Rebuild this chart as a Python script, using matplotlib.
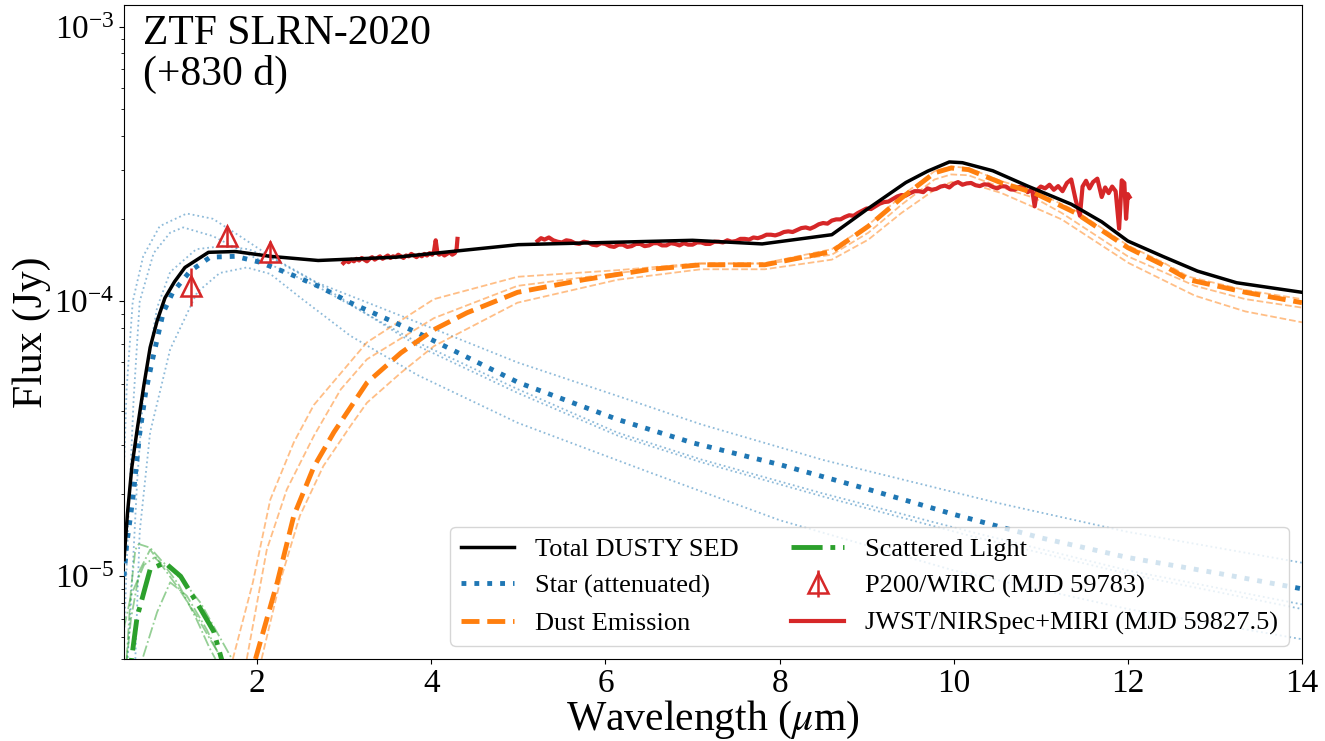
import matplotlib
matplotlib.use('Agg')
import matplotlib.pyplot as plt
import numpy as np

plt.rcParams['font.family'] = ['Liberation Serif', 'DejaVu Serif']
plt.rcParams['mathtext.fontset'] = 'stix'

# ---------------- data ----------------
tot_wl = [0.47, 0.51, 0.56, 0.62, 0.70, 0.77, 0.85, 0.94, 1.05, 1.17, 1.44, 1.75, 2.15, 2.70,
          3.60, 5.00, 7.00, 7.80, 8.60, 9.00, 9.45, 9.70, 9.95, 10.10, 10.45, 10.85, 11.35,
          11.70, 12.00, 12.40, 12.80, 13.25, 14.00]
tot_flux = [1.15e-5, 1.7e-5, 2.5e-5, 3.4e-5, 5.0e-5, 6.8e-5, 8.5e-5, 1.03e-4, 1.18e-4, 1.33e-4,
            1.51e-4, 1.52e-4, 1.46e-4, 1.41e-4, 1.45e-4, 1.61e-4, 1.67e-4, 1.62e-4, 1.75e-4,
            2.16e-4, 2.71e-4, 2.98e-4, 3.22e-4, 3.20e-4, 2.99e-4, 2.63e-4, 2.26e-4, 1.95e-4,
            1.66e-4, 1.46e-4, 1.29e-4, 1.17e-4, 1.08e-4]

star_wl = [0.47, 0.50, 0.57, 0.65, 0.72, 0.80, 0.92, 1.03, 1.23, 1.46, 1.75, 2.03, 2.40, 2.72,
           3.07, 3.84, 5.00, 6.14, 7.00, 8.00, 9.00, 10.00, 11.00, 12.00, 13.00, 14.00]
star_flux = [1.0e-5, 1.3e-5, 1.9e-5, 3.3e-5, 4.7e-5, 6.2e-5, 9.1e-5, 1.08e-4, 1.29e-4, 1.45e-4,
             1.46e-4, 1.39e-4, 1.25e-4, 1.13e-4, 9.9e-5, 7.7e-5, 5.07e-5, 3.72e-5, 3.06e-5,
             2.55e-5, 2.08e-5, 1.68e-5, 1.38e-5, 1.17e-5, 1.03e-5, 9.0e-6]

starA_wl = [0.47, 0.50, 0.57, 0.69, 0.88, 1.19, 1.49, 1.80, 2.15, 2.69, 3.84, 4.99, 6.14, 7.10,
            8.50, 10.50, 12.00, 14.00]
starA_flux = [2.5e-5, 4.8e-5, 1.0e-4, 1.46e-4, 1.88e-4, 2.09e-4, 2.0e-4, 1.73e-4, 1.46e-4,
              1.17e-4, 8.4e-5, 6.0e-5, 4.53e-5, 3.57e-5, 2.65e-5, 1.85e-5, 1.45e-5, 1.12e-5]

starB_wl = [0.47, 0.52, 0.58, 0.65, 0.81, 1.00, 1.15, 1.49, 1.96, 2.34, 2.72, 3.84, 4.99, 6.14,
            7.10, 8.50, 10.20, 12.00, 14.00]
starB_flux = [6e-6, 1.6e-5, 4.4e-5, 1.0e-4, 1.5e-4, 1.78e-4, 1.86e-4, 1.73e-4, 1.45e-4, 1.28e-4,
              1.12e-4, 7.1e-5, 4.8e-5, 3.33e-5, 2.66e-5, 2.0e-5, 1.45e-5, 1.05e-5, 7.9e-6]

starC_wl = [0.47, 0.55, 0.62, 0.70, 0.85, 1.00, 1.30, 1.60, 1.90, 2.20, 2.72, 3.84, 4.99, 6.14,
            7.10, 8.50, 10.20, 12.00, 14.00]
starC_flux = [3e-6, 8e-6, 2.2e-5, 5.0e-5, 9.5e-5, 1.28e-4, 1.55e-4, 1.59e-4, 1.55e-4, 1.42e-4,
              1.15e-4, 6.9e-5, 4.65e-5, 3.25e-5, 2.6e-5, 1.95e-5, 1.4e-5, 1.02e-5, 7.6e-6]

starD_wl = [0.60, 0.65, 0.77, 1.00, 1.31, 1.57, 1.88, 2.15, 2.50, 3.07, 3.84, 4.99, 6.52, 8.00,
            10.00, 12.00, 14.00]
starD_flux = [5e-6, 1.45e-5, 3.34e-5, 6.7e-5, 1.08e-4, 1.27e-4, 1.33e-4, 1.26e-4, 1.03e-4, 7.5e-5,
              5.4e-5, 3.62e-5, 2.38e-5, 1.6e-5, 1.05e-5, 7.6e-6, 5.9e-6]

dust_wl = [1.98, 2.23, 2.42, 2.65, 2.88, 3.26, 3.65, 4.03, 4.41, 4.99, 5.75, 6.52, 7.10, 7.83,
           8.60, 9.02, 9.40, 9.78, 9.97, 10.17, 10.55, 10.93, 11.40, 12.00, 12.40, 12.70,
           13.35, 14.00]
dust_flux = [5.0e-6, 9.5e-6, 1.66e-5, 2.5e-5, 3.34e-5, 5.06e-5, 6.5e-5, 7.9e-5, 9.1e-5, 1.08e-4,
             1.20e-4, 1.31e-4, 1.36e-4, 1.36e-4, 1.52e-4, 1.88e-4, 2.38e-4, 2.94e-4, 3.06e-4,
             3.02e-4, 2.70e-4, 2.48e-4, 2.10e-4, 1.57e-4, 1.36e-4, 1.20e-4, 1.08e-4, 9.9e-5]

dustA_wl = [1.72, 1.95, 2.15, 2.42, 2.65, 3.26, 4.03, 4.99, 6.14, 7.10, 7.83, 8.60, 9.02, 9.40,
            9.78, 9.97, 10.17, 10.55, 10.93, 11.40, 12.00, 12.40, 12.70, 13.35, 14.00]
dustA_flux = [5.0e-6, 9.5e-6, 1.9e-5, 3.07e-5, 4.2e-5, 7.1e-5, 1.02e-4, 1.23e-4, 1.30e-4, 1.38e-4,
              1.38e-4, 1.55e-4, 1.90e-4, 2.42e-4, 2.98e-4, 3.10e-4, 3.06e-4, 2.74e-4, 2.52e-4,
              2.14e-4, 1.60e-4, 1.39e-4, 1.23e-4, 1.10e-4, 1.02e-4]

dustB_wl = [1.88, 2.11, 2.34, 2.65, 2.96, 3.26, 4.03, 4.99, 6.14, 7.10, 7.83, 8.60, 9.02, 9.40,
            9.78, 9.97, 10.17, 10.55, 10.93, 11.24, 12.00, 12.77, 13.35, 14.00]
dustB_flux = [5.0e-6, 1.25e-5, 2.07e-5, 3.24e-5, 4.79e-5, 6.16e-5, 8.7e-5, 1.14e-4, 1.27e-4,
              1.37e-4, 1.37e-4, 1.48e-4, 1.78e-4, 2.25e-4, 2.78e-4, 2.90e-4, 2.88e-4, 2.60e-4,
              2.38e-4, 2.10e-4, 1.46e-4, 1.14e-4, 1.02e-4, 9.5e-5]

dustC_wl = [2.05, 2.26, 2.49, 2.76, 3.07, 3.26, 3.65, 4.03, 4.99, 6.14, 7.10, 7.83, 8.60, 9.02,
            9.40, 9.78, 9.97, 10.17, 10.55, 11.24, 12.01, 12.77, 13.35, 14.00]
dustC_flux = [5.0e-6, 9.5e-6, 1.66e-5, 2.52e-5, 3.52e-5, 4.28e-5, 5.5e-5, 6.88e-5, 9.9e-5, 1.20e-4,
              1.31e-4, 1.31e-4, 1.42e-4, 1.68e-4, 2.10e-4, 2.55e-4, 2.72e-4, 2.70e-4, 2.48e-4,
              1.99e-4, 1.38e-4, 1.05e-4, 9.2e-5, 8.4e-5]

scat_wl = [0.50, 0.56, 0.62, 0.77, 0.94, 1.12, 1.35, 1.50, 1.59, 1.70]
scat_flux = [3.5e-6, 5.1e-6, 7.1e-6, 1.06e-5, 1.12e-5, 1.0e-5, 7.6e-6, 6.3e-6, 5.0e-6, 3.8e-6]

scatA_wl = [0.50, 0.55, 0.60, 0.64, 0.77, 0.90, 1.15, 1.35, 1.52, 1.71]
scatA_flux = [5e-6, 9e-6, 1.25e-5, 1.31e-5, 1.27e-5, 1.14e-5, 9.6e-6, 8.0e-6, 6.4e-6, 5.0e-6]

scatB_wl = [0.47, 0.55, 0.65, 0.77, 0.90, 1.10, 1.30, 1.50, 1.60]
scatB_flux = [4e-6, 7e-6, 1.05e-5, 1.25e-5, 1.1e-5, 9.0e-6, 7.2e-6, 5.6e-6, 5.0e-6]

scatC_wl = [0.69, 0.85, 1.00, 1.19, 1.42, 1.57]
scatC_flux = [5.1e-6, 7.4e-6, 9.5e-6, 8.5e-6, 6.4e-6, 5.1e-6]

scatD_wl = [0.47, 0.55, 0.70, 0.82, 0.95, 1.10, 1.30, 1.45, 1.52]
scatD_flux = [6.5e-6, 8.5e-6, 1.1e-5, 1.17e-5, 1.08e-5, 9.3e-6, 7.0e-6, 5.5e-6, 5.0e-6]

wirc_wl = [1.24, 1.65, 2.15]
wirc_flux = [1.14e-4, 1.73e-4, 1.52e-4]
wirc_err = [1.8e-5, 1.55e-5, 1.4e-5]

nirspec_wl = [2.99, 3.02, 3.05, 3.08, 3.11, 3.14, 3.17, 3.20, 3.23, 3.26, 3.29, 3.32, 3.35, 3.38,
              3.41, 3.44, 3.47, 3.50, 3.53, 3.56, 3.59, 3.62, 3.65, 3.68, 3.71, 3.74, 3.77, 3.80,
              3.83, 3.86, 3.89, 3.92, 3.95, 3.98, 4.01, 4.03, 4.05, 4.07, 4.09, 4.12, 4.15, 4.18,
              4.21, 4.24, 4.27, 4.29, 4.30]
nirspec_flux = [1.38e-4, 1.41e-4, 1.39e-4, 1.42e-4, 1.40e-4, 1.43e-4, 1.41e-4, 1.44e-4, 1.42e-4,
                1.40e-4, 1.43e-4, 1.45e-4, 1.42e-4, 1.44e-4, 1.46e-4, 1.43e-4, 1.45e-4, 1.47e-4,
                1.44e-4, 1.46e-4, 1.45e-4, 1.48e-4, 1.46e-4, 1.44e-4, 1.47e-4, 1.46e-4, 1.49e-4,
                1.47e-4, 1.45e-4, 1.48e-4, 1.46e-4, 1.49e-4, 1.47e-4, 1.50e-4, 1.48e-4, 1.52e-4,
                1.67e-4, 1.50e-4, 1.48e-4, 1.50e-4, 1.47e-4, 1.49e-4, 1.51e-4, 1.48e-4, 1.50e-4,
                1.55e-4, 1.69e-4]

miri_wl = [5.22, 5.26, 5.30, 5.35, 5.40, 5.45, 5.50, 5.55, 5.60, 5.65, 5.70, 5.75, 5.80, 5.85,
           5.90, 5.95, 6.00, 6.05, 6.10, 6.15, 6.20, 6.25, 6.30, 6.35, 6.40, 6.45, 6.50, 6.55,
           6.60, 6.65, 6.70, 6.75, 6.80, 6.85, 6.90, 6.95, 7.00, 7.05, 7.10, 7.15, 7.20, 7.25,
           7.30, 7.35, 7.40, 7.45, 7.50, 7.55, 7.60, 7.65, 7.70, 7.75, 7.80, 7.85, 7.90, 7.95,
           8.00, 8.05, 8.10, 8.15, 8.20, 8.25, 8.30, 8.35, 8.40, 8.45, 8.50, 8.55, 8.60, 8.65,
           8.70, 8.75, 8.80, 8.85, 8.90, 8.95, 9.00, 9.05, 9.10, 9.15, 9.20, 9.25, 9.30, 9.35,
           9.40, 9.45, 9.50, 9.55, 9.60, 9.65, 9.70, 9.75, 9.80, 9.85, 9.90, 9.95, 10.00, 10.05,
           10.10, 10.15, 10.20, 10.25, 10.30, 10.35, 10.40, 10.45, 10.50, 10.55, 10.60, 10.65,
           10.70, 10.75, 10.80, 10.85, 10.90, 10.93, 10.96, 11.00, 11.05, 11.10, 11.15, 11.20,
           11.25, 11.30, 11.35, 11.40, 11.45, 11.48, 11.52, 11.56, 11.60, 11.65, 11.70, 11.74,
           11.78, 11.82, 11.86, 11.90, 11.93, 11.96, 11.98, 12.00, 12.02]
miri_flux = [1.66e-4, 1.70e-4, 1.68e-4, 1.71e-4, 1.67e-4, 1.65e-4, 1.64e-4, 1.67e-4, 1.66e-4,
             1.63e-4, 1.62e-4, 1.65e-4, 1.64e-4, 1.61e-4, 1.60e-4, 1.63e-4, 1.62e-4, 1.59e-4,
             1.58e-4, 1.61e-4, 1.61e-4, 1.58e-4, 1.59e-4, 1.62e-4, 1.62e-4, 1.59e-4, 1.60e-4,
             1.63e-4, 1.63e-4, 1.60e-4, 1.60e-4, 1.63e-4, 1.62e-4, 1.60e-4, 1.63e-4, 1.61e-4,
             1.61e-4, 1.64e-4, 1.64e-4, 1.62e-4, 1.62e-4, 1.65e-4, 1.65e-4, 1.64e-4, 1.67e-4,
             1.65e-4, 1.66e-4, 1.69e-4, 1.69e-4, 1.68e-4, 1.71e-4, 1.70e-4, 1.72e-4, 1.75e-4,
             1.75e-4, 1.74e-4, 1.76e-4, 1.79e-4, 1.80e-4, 1.79e-4, 1.82e-4, 1.85e-4, 1.86e-4,
             1.84e-4, 1.87e-4, 1.91e-4, 1.93e-4, 1.92e-4, 1.97e-4, 1.99e-4, 1.99e-4, 2.03e-4,
             2.06e-4, 2.05e-4, 2.10e-4, 2.14e-4, 2.18e-4, 2.17e-4, 2.22e-4, 2.27e-4, 2.30e-4,
             2.31e-4, 2.36e-4, 2.41e-4, 2.44e-4, 2.43e-4, 2.48e-4, 2.52e-4, 2.52e-4, 2.50e-4,
             2.58e-4, 2.55e-4, 2.57e-4, 2.62e-4, 2.64e-4, 2.60e-4, 2.68e-4, 2.72e-4, 2.66e-4,
             2.69e-4, 2.70e-4, 2.65e-4, 2.63e-4, 2.67e-4, 2.66e-4, 2.61e-4, 2.58e-4, 2.63e-4,
             2.62e-4, 2.56e-4, 2.55e-4, 2.61e-4, 2.60e-4, 2.50e-4, 2.56e-4, 2.22e-4, 2.55e-4,
             2.62e-4, 2.58e-4, 2.66e-4, 2.55e-4, 2.63e-4, 2.52e-4, 2.70e-4, 2.78e-4, 2.35e-4,
             2.05e-4, 2.62e-4, 2.75e-4, 2.58e-4, 2.72e-4, 2.80e-4, 2.40e-4, 2.60e-4, 2.48e-4,
             2.62e-4, 2.52e-4, 1.84e-4, 2.76e-4, 2.70e-4, 2.00e-4, 2.46e-4, 2.40e-4]

# ---------------- plotting ----------------
BLUE, ORANGE, GREEN, RED = '#1f77b4', '#ff7f0e', '#2ca02c', '#d62728'

fig = plt.figure(figsize=(13.25, 7.41), dpi=100)
ax = fig.add_axes([0.0936, 0.1107, 0.8890, 0.8826])

thin = dict(lw=1.3, alpha=0.5)
for wl, fl in [(starA_wl, starA_flux), (starB_wl, starB_flux), (starC_wl, starC_flux), (starD_wl, starD_flux)]:
    ax.plot(wl, fl, ls=':', color=BLUE, **thin)
for wl, fl in [(dustA_wl, dustA_flux), (dustB_wl, dustB_flux), (dustC_wl, dustC_flux)]:
    ax.plot(wl, fl, ls='--', color=ORANGE, **thin)
for wl, fl in [(scatA_wl, scatA_flux), (scatB_wl, scatB_flux), (scatC_wl, scatC_flux), (scatD_wl, scatD_flux)]:
    ax.plot(wl, fl, ls='-.', color=GREEN, **thin)

h_jw, = ax.plot(nirspec_wl, nirspec_flux, color=RED, lw=3, zorder=3)
ax.plot(miri_wl, miri_flux, color=RED, lw=3, zorder=3)

h_star, = ax.plot(star_wl, star_flux, ls=':', color=BLUE, lw=3.5, zorder=4)
h_dust, = ax.plot(dust_wl, dust_flux, ls='--', color=ORANGE, lw=3.5, zorder=4)
h_scat, = ax.plot(scat_wl, scat_flux, ls='-.', color=GREEN, lw=3.5, zorder=4)
h_tot, = ax.plot(tot_wl, tot_flux, color='black', lw=2.5, zorder=5)

h_wirc = ax.errorbar(wirc_wl, wirc_flux, yerr=wirc_err, fmt='^', color=RED, mfc='none',
                     ms=14, mew=1.8, elinewidth=1.8, capsize=0, zorder=6)

ax.set_yscale('log')
ax.set_xlim(0.47, 14)
ax.set_ylim(5e-6, 1.2e-3)
ax.set_xticks([2, 4, 6, 8, 10, 12, 14])
ax.tick_params(axis='both', which='major', labelsize=24)

ax.set_xlabel(r'Wavelength ($\mu$m)', fontsize=30, labelpad=0)
ax.set_ylabel('Flux (Jy)', fontsize=30, labelpad=2)

ax.text(0.016, 0.985, 'ZTF SLRN-2020\n(+830 d)', transform=ax.transAxes, fontsize=30,
        va='top', ha='left', linespacing=1.05)

ax.legend([h_tot, h_star, h_dust, h_scat, h_wirc, h_jw],
          ['Total DUSTY SED', 'Star (attenuated)', 'Dust Emission', 'Scattered Light',
           'P200/WIRC (MJD 59783)', 'JWST/NIRSpec+MIRI (MJD 59827.5)'],
          ncol=2, loc='lower right', fontsize=19, framealpha=0.8)

fig.savefig('out.png', dpi=100)
